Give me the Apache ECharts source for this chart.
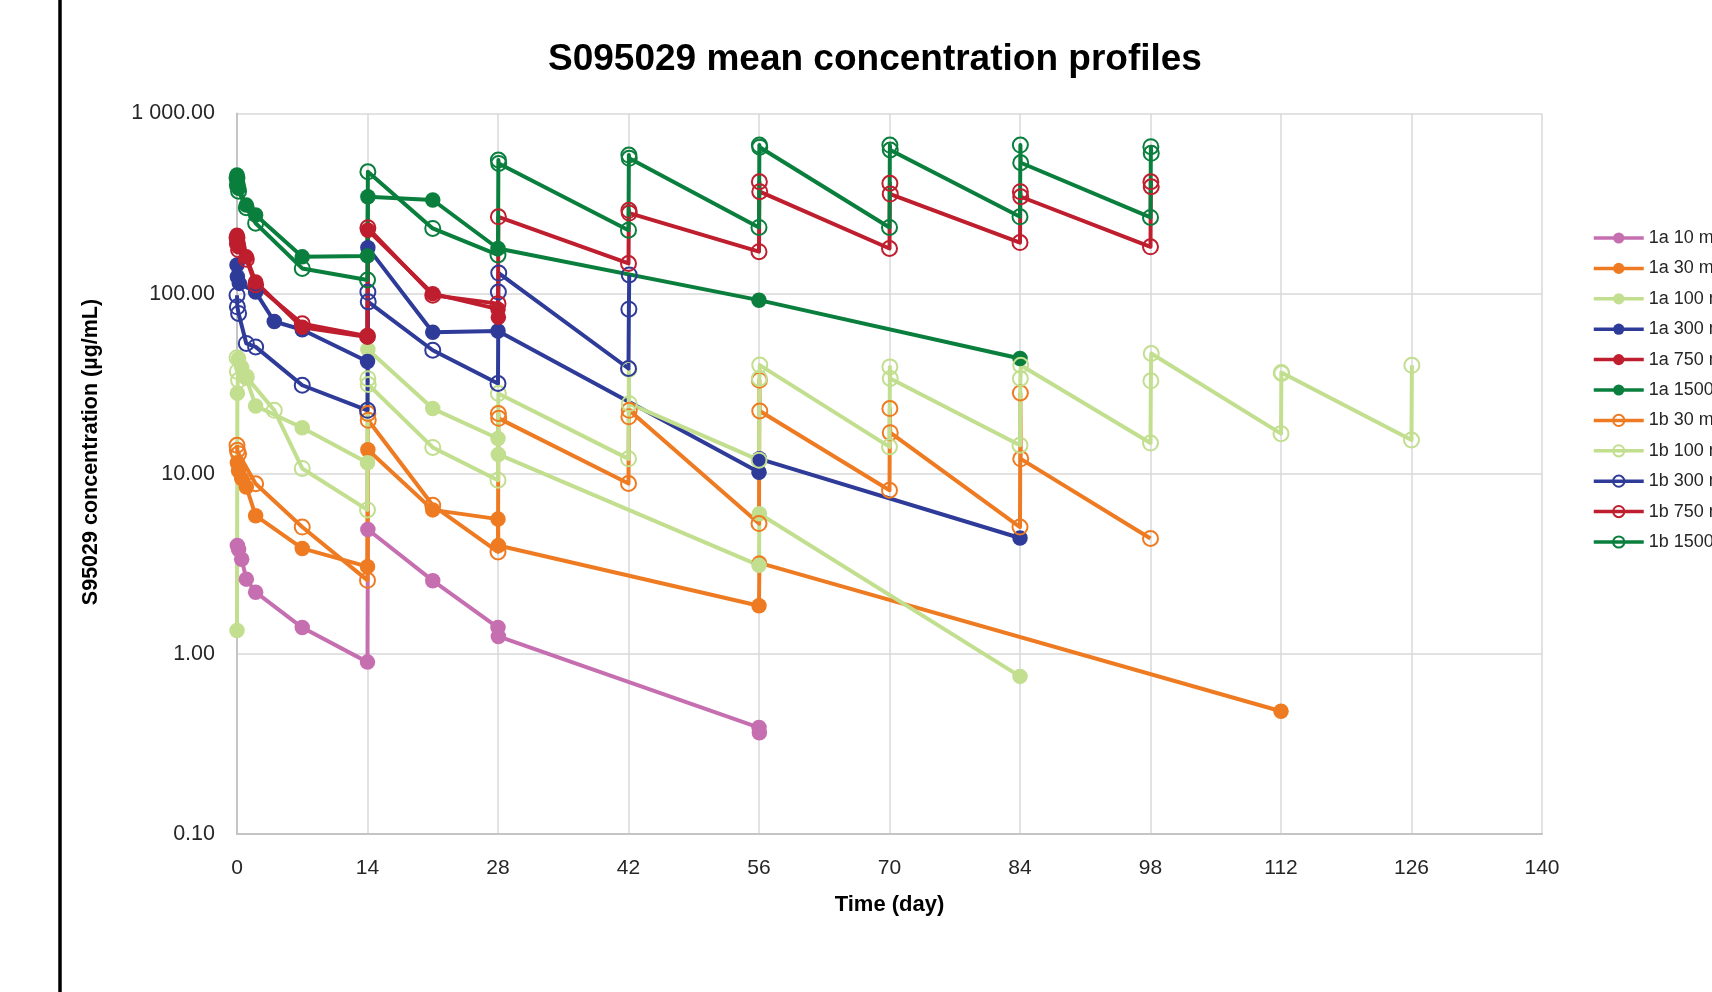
<!DOCTYPE html>
<html>
<head>
<meta charset="utf-8">
<title>S095029 mean concentration profiles</title>
<script src="https://cdn.jsdelivr.net/npm/echarts@6/dist/echarts.min.js"></script>
<style>
  html, body { margin: 0; padding: 0; background: #fff; }
  #chart { width: 1712px; height: 992px; }
</style>
</head>
<body>
<div id="chart"></div>
<script>
// series names, in legend order
const seriesNames = [
  '1a 10 mg', '1a 30 mg', '1a 100 mg', '1a 300 mg', '1a 750 mg', '1a 1500 mg',
  '1b 30 mg', '1b 100 mg', '1b 300 mg', '1b 750 mg', '1b 1500 mg'
];

// [time (day), concentration (µg/mL)]
const s1a10 = [[0.04, 4.0], [0.17, 3.8], [0.5, 3.35], [1, 2.6], [2, 2.2], [7, 1.4], [14, 0.9], [14.04, 4.9],
  [21, 2.55], [28, 1.4], [28.04, 1.25], [56, 0.39], [56.04, 0.365]];
const s1a30 = [[0.04, 11.5], [0.17, 10.4], [0.5, 9.4], [1, 8.45], [2, 5.85], [7, 3.85], [14, 3.05], [14.04, 13.6],
  [21, 6.3], [28, 5.6], [28.04, 4.0], [56, 1.85], [56.04, 3.2], [112, 0.48]];
const s1a100 = [[0, 1.35], [0.04, 28], [0.17, 43.5], [0.5, 39], [1, 34], [2, 23.8], [7, 18], [14, 11.5],
  [14.04, 49], [21, 23], [28, 15.7], [28.04, 12.8], [56, 3.1], [56.04, 6.0], [84, 0.75]];
const s1a300 = [[0, 144], [0.04, 124], [0.25, 114], [2, 102], [4, 70], [7, 63], [14, 42], [14.04, 180],
  [21, 61], [28, 62], [56, 10.2], [56.04, 12.1], [84, 4.4]];
const s1a750 = [[0, 211], [0.04, 194], [0.17, 182], [1, 160], [2, 116], [7, 65], [14, 57.5], [14.04, 225],
  [21, 100], [28, 82], [28.04, 74]];
const s1a1500 = [[0, 455], [0.04, 418], [0.17, 384], [1, 310], [2, 273], [7, 160], [14, 162], [14.04, 345],
  [21, 331], [28, 178], [56, 92], [84, 43.6]];
const s1b30 = [[0, 14.4], [0.04, 13.5], [0.17, 12.9], [2, 8.8], [7, 5.06], [14, 2.56], [14.04, 21.6], [14.08, 19.8],
  [21, 6.68], [28, 3.68], [28.04, 21.6], [28.08, 20.3], [42, 8.83], [42.04, 20.7], [42.08, 22.5],
  [56, 5.29], [56.04, 33], [56.08, 22.3], [70, 8.1], [70.04, 23], [70.08, 16.9],
  [84, 5.06], [84.04, 28.1], [84.08, 12.1], [98, 4.37]];
const s1b100 = [[0, 44], [0.04, 37], [0.17, 33], [1, 34.5], [4, 22.5], [7, 10.7], [14, 6.3], [14.04, 33.7], [14.08, 31.3],
  [21, 14], [28, 9.2], [28.04, 27.9], [42, 12.1], [42.04, 38], [42.08, 24.5],
  [56, 11.9], [56.04, 33.8], [56.08, 40.1], [70, 14.1], [70.04, 39.2], [70.08, 33.8],
  [84, 14.4], [84.04, 33.8], [84.08, 40], [98, 14.8], [98.04, 32.8], [98.08, 46.5],
  [112, 16.7], [112.04, 36.5], [112.08, 36], [126, 15.4], [126.04, 40]];
const s1b300 = [[0, 98], [0.04, 84.5], [0.17, 77.6], [1, 52.9], [2, 50.6], [7, 31], [14, 22.5], [14.04, 102], [14.08, 90],
  [21, 48.5], [28, 31.7], [28.04, 102], [28.08, 130], [42, 38.4], [42.04, 82], [42.08, 127]];
const s1b750 = [[0, 205], [0.04, 190], [0.17, 175], [1, 155], [2, 112], [7, 68], [14, 58], [14.04, 232],
  [21, 98], [28, 88], [28.04, 267], [42, 147], [42.04, 290], [42.08, 280],
  [56, 171], [56.04, 418], [56.08, 368], [70, 178], [70.04, 410], [70.08, 357],
  [84, 192], [84.04, 368], [84.08, 345], [98, 182], [98.04, 418], [98.08, 392]];
const s1b1500 = [[0, 440], [0.04, 400], [0.17, 370], [1, 300], [2, 246], [7, 138], [14, 119], [14.04, 475],
  [21, 230], [28, 164], [28.04, 552], [28.08, 528], [42, 225], [42.04, 588], [42.08, 564],
  [56, 233], [56.04, 668], [56.08, 650], [70, 233], [70.04, 668], [70.08, 627],
  [84, 267], [84.04, 668], [84.08, 533], [98, 265], [98.04, 654], [98.08, 601]];

const seriesData = [s1a10, s1a30, s1a100, s1a300, s1a750, s1a1500, s1b30, s1b100, s1b300, s1b750, s1b1500];
const seriesColors = ['#c66fb0', '#ee7b22', '#c2de8f', '#2f3b98', '#be1e2d', '#0a7f3d',
  '#ee7b22', '#c2de8f', '#2f3b98', '#be1e2d', '#0a7f3d'];
const openMarker = [false, false, false, false, false, false, true, true, true, true, true];

// axis ticks
const yTickLabels = ['0.10', '1.00', '10.00', '100.00', '1 000.00'];   // 10^-1 .. 10^3
const xTicks = [0, 14, 28, 42, 56, 70, 84, 98, 112, 126, 140];

const font = '"Liberation Sans", Arial, sans-serif';

const chart = echarts.init(document.getElementById('chart'), null, { renderer: 'canvas' });

const series = seriesNames.map((name, i) => {
  const c = seriesColors[i];
  return {
    name: name,
    type: 'line',
    data: seriesData[i],
    symbol: 'circle',
    symbolSize: openMarker[i] ? 15 : 15.5,
    showAllSymbol: true,
    itemStyle: openMarker[i]
      ? { color: 'rgba(255,255,255,0)', borderColor: c, borderWidth: 2 }
      : { color: c, borderWidth: 0 },
    lineStyle: { color: c, width: 4, join: 'round' },
    emphasis: { disabled: true }
  };
});

const option = {
  animation: false,
  backgroundColor: '#fff',
  title: {
    text: 'S095029 mean concentration profiles',
    left: 548,
    top: 41,
    padding: 0,
    textStyle: { fontFamily: font, fontWeight: 'bold', fontSize: 37, color: '#000' }
  },
  legend: {
    orient: 'vertical',
    left: 1592,
    top: 229,
    itemWidth: 50,
    itemHeight: 14,
    itemGap: 12.4,
    padding: 0,
    lineStyle: { width: 3.5 },
    textStyle: { fontFamily: font, fontSize: 18, color: '#262626', lineHeight: 18 },
    data: seriesNames
  },
  grid: { left: 237, top: 113.5, right: 170, bottom: 158, containLabel: false },
  xAxis: {
    type: 'value',
    min: 0,
    max: 140,
    interval: 14,
    name: 'Time (day)',
    nameLocation: 'middle',
    nameGap: 60,
    nameTextStyle: { fontFamily: font, fontWeight: 'bold', fontSize: 22, color: '#000' },
    axisLine: { show: true, onZero: false, lineStyle: { color: '#c4c4c4', width: 2 } },
    axisTick: { show: false },
    axisLabel: {
      margin: 24,
      fontFamily: font, fontSize: 21, color: '#262626',
      formatter: v => (xTicks.indexOf(v) >= 0 ? String(v) : '')
    },
    splitLine: { show: true, lineStyle: { color: '#d9d9d9', width: 1.5 } }
  },
  yAxis: {
    type: 'log',
    logBase: 10,
    min: 0.1,
    max: 1000,
    axisLine: { show: true, lineStyle: { color: '#c4c4c4', width: 2 } },
    axisTick: { show: false },
    axisLabel: {
      margin: 22,
      fontFamily: font, fontSize: 21.5, color: '#262626',
      formatter: v => yTickLabels[Math.round(Math.log10(v)) + 1]
    },
    splitLine: { show: true, lineStyle: { color: '#d9d9d9', width: 1.5 } }
  },
  graphic: [
    {
      type: 'line',
      shape: { x1: 60, y1: 0, x2: 60, y2: 992 },
      style: { stroke: '#000', lineWidth: 3.5 }
    },
    {
      type: 'text',
      x: 91,
      y: 452,
      rotation: Math.PI / 2,
      style: {
        text: 'S95029 concentration (µg/mL)',
        fontFamily: font, fontWeight: 'bold', fontSize: 21.5, fill: '#000',
        align: 'center', verticalAlign: 'middle'
      }
    }
  ],
  series: series
};

chart.setOption(option);
</script>
</body>
</html>
